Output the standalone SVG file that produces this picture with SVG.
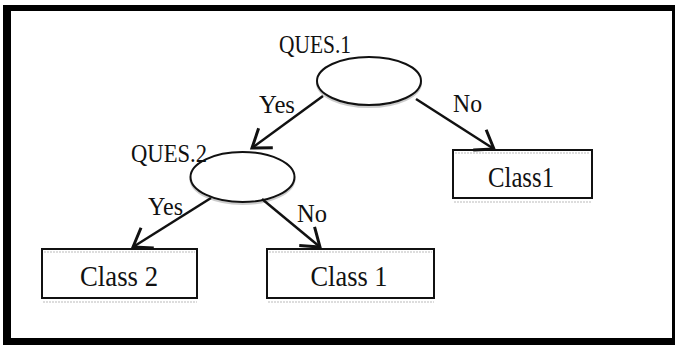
<svg xmlns="http://www.w3.org/2000/svg" width="675" height="345" viewBox="0 0 675 345">
<style>
.t{font-family:"Liberation Serif","Times New Roman",serif;fill:#111;}
.node{fill:#fff;stroke:#111;stroke-width:2;}
.shadow{fill:none;stroke:#ccc;stroke-width:2;}
.hl{stroke:#bbb;stroke-width:1;stroke-dasharray:2 1;}
.edge{stroke:#111;stroke-width:2.5;fill:none;marker-end:url(#arr);}
</style>
<defs>
<marker id="arr" markerUnits="userSpaceOnUse" markerWidth="30" markerHeight="30" viewBox="-20 -15 25 30" refX="0" refY="0" orient="auto">
<path d="M-17,-12 L0,0 L-17,12" fill="none" stroke="#111" stroke-width="3"/>
</marker>
</defs>
<rect width="675" height="345" fill="#fff"/>
<path d="M3,5 H675 V345 H3 Z M11,11 V338 H672 V11 Z" fill="#000" fill-rule="evenodd"/>

<g id="q1">
<ellipse cx="369" cy="83" rx="52" ry="24" class="shadow"/>
<ellipse cx="369" cy="81" rx="52" ry="24" class="node"/>
<text class="t" x="279" y="53" font-size="26" textLength="72" lengthAdjust="spacingAndGlyphs">QUES.1</text>
</g>
<g id="q2">
<ellipse cx="242.5" cy="179" rx="52" ry="25" class="shadow"/>
<ellipse cx="242.5" cy="177" rx="52" ry="25" class="node"/>
<text class="t" x="131" y="162" font-size="26" textLength="76" lengthAdjust="spacingAndGlyphs">QUES.2</text>
</g>
<g id="c1right">
<line x1="454" y1="202" x2="592" y2="202" class="hl"/>
<rect x="453" y="150" width="139" height="48" class="node"/>
<line x1="455" y1="153" x2="590" y2="153" class="hl"/>
<text class="t" x="521" y="187" font-size="29" text-anchor="middle" textLength="66" lengthAdjust="spacingAndGlyphs">Class1</text>
</g>
<g id="c2">
<line x1="43" y1="302" x2="197" y2="302" class="hl"/>
<rect x="42" y="249" width="155" height="49" class="node"/>
<line x1="44" y1="252" x2="195" y2="252" class="hl"/>
<text class="t" x="119" y="286" font-size="29" text-anchor="middle" textLength="78" lengthAdjust="spacingAndGlyphs">Class 2</text>
</g>
<g id="c1">
<line x1="268" y1="302" x2="434" y2="302" class="hl"/>
<rect x="267" y="249" width="167" height="49" class="node"/>
<line x1="269" y1="252" x2="432" y2="252" class="hl"/>
<text class="t" x="349" y="286" font-size="29" text-anchor="middle" textLength="77" lengthAdjust="spacingAndGlyphs">Class 1</text>
</g>

<g id="edges">
<line x1="323" y1="96" x2="252" y2="148" class="edge"/>
<line x1="416" y1="99" x2="494" y2="149" class="edge"/>
<line x1="211" y1="198" x2="133" y2="247" class="edge"/>
<line x1="262" y1="199" x2="320" y2="247" class="edge"/>
<text class="t" x="259" y="113" font-size="25" textLength="36" lengthAdjust="spacingAndGlyphs">Yes</text>
<text class="t" x="453" y="112" font-size="25" textLength="29" lengthAdjust="spacingAndGlyphs">No</text>
<text class="t" x="148" y="215" font-size="25" textLength="35" lengthAdjust="spacingAndGlyphs">Yes</text>
<text class="t" x="297" y="222" font-size="25" textLength="30" lengthAdjust="spacingAndGlyphs">No</text>
</g>
</svg>
